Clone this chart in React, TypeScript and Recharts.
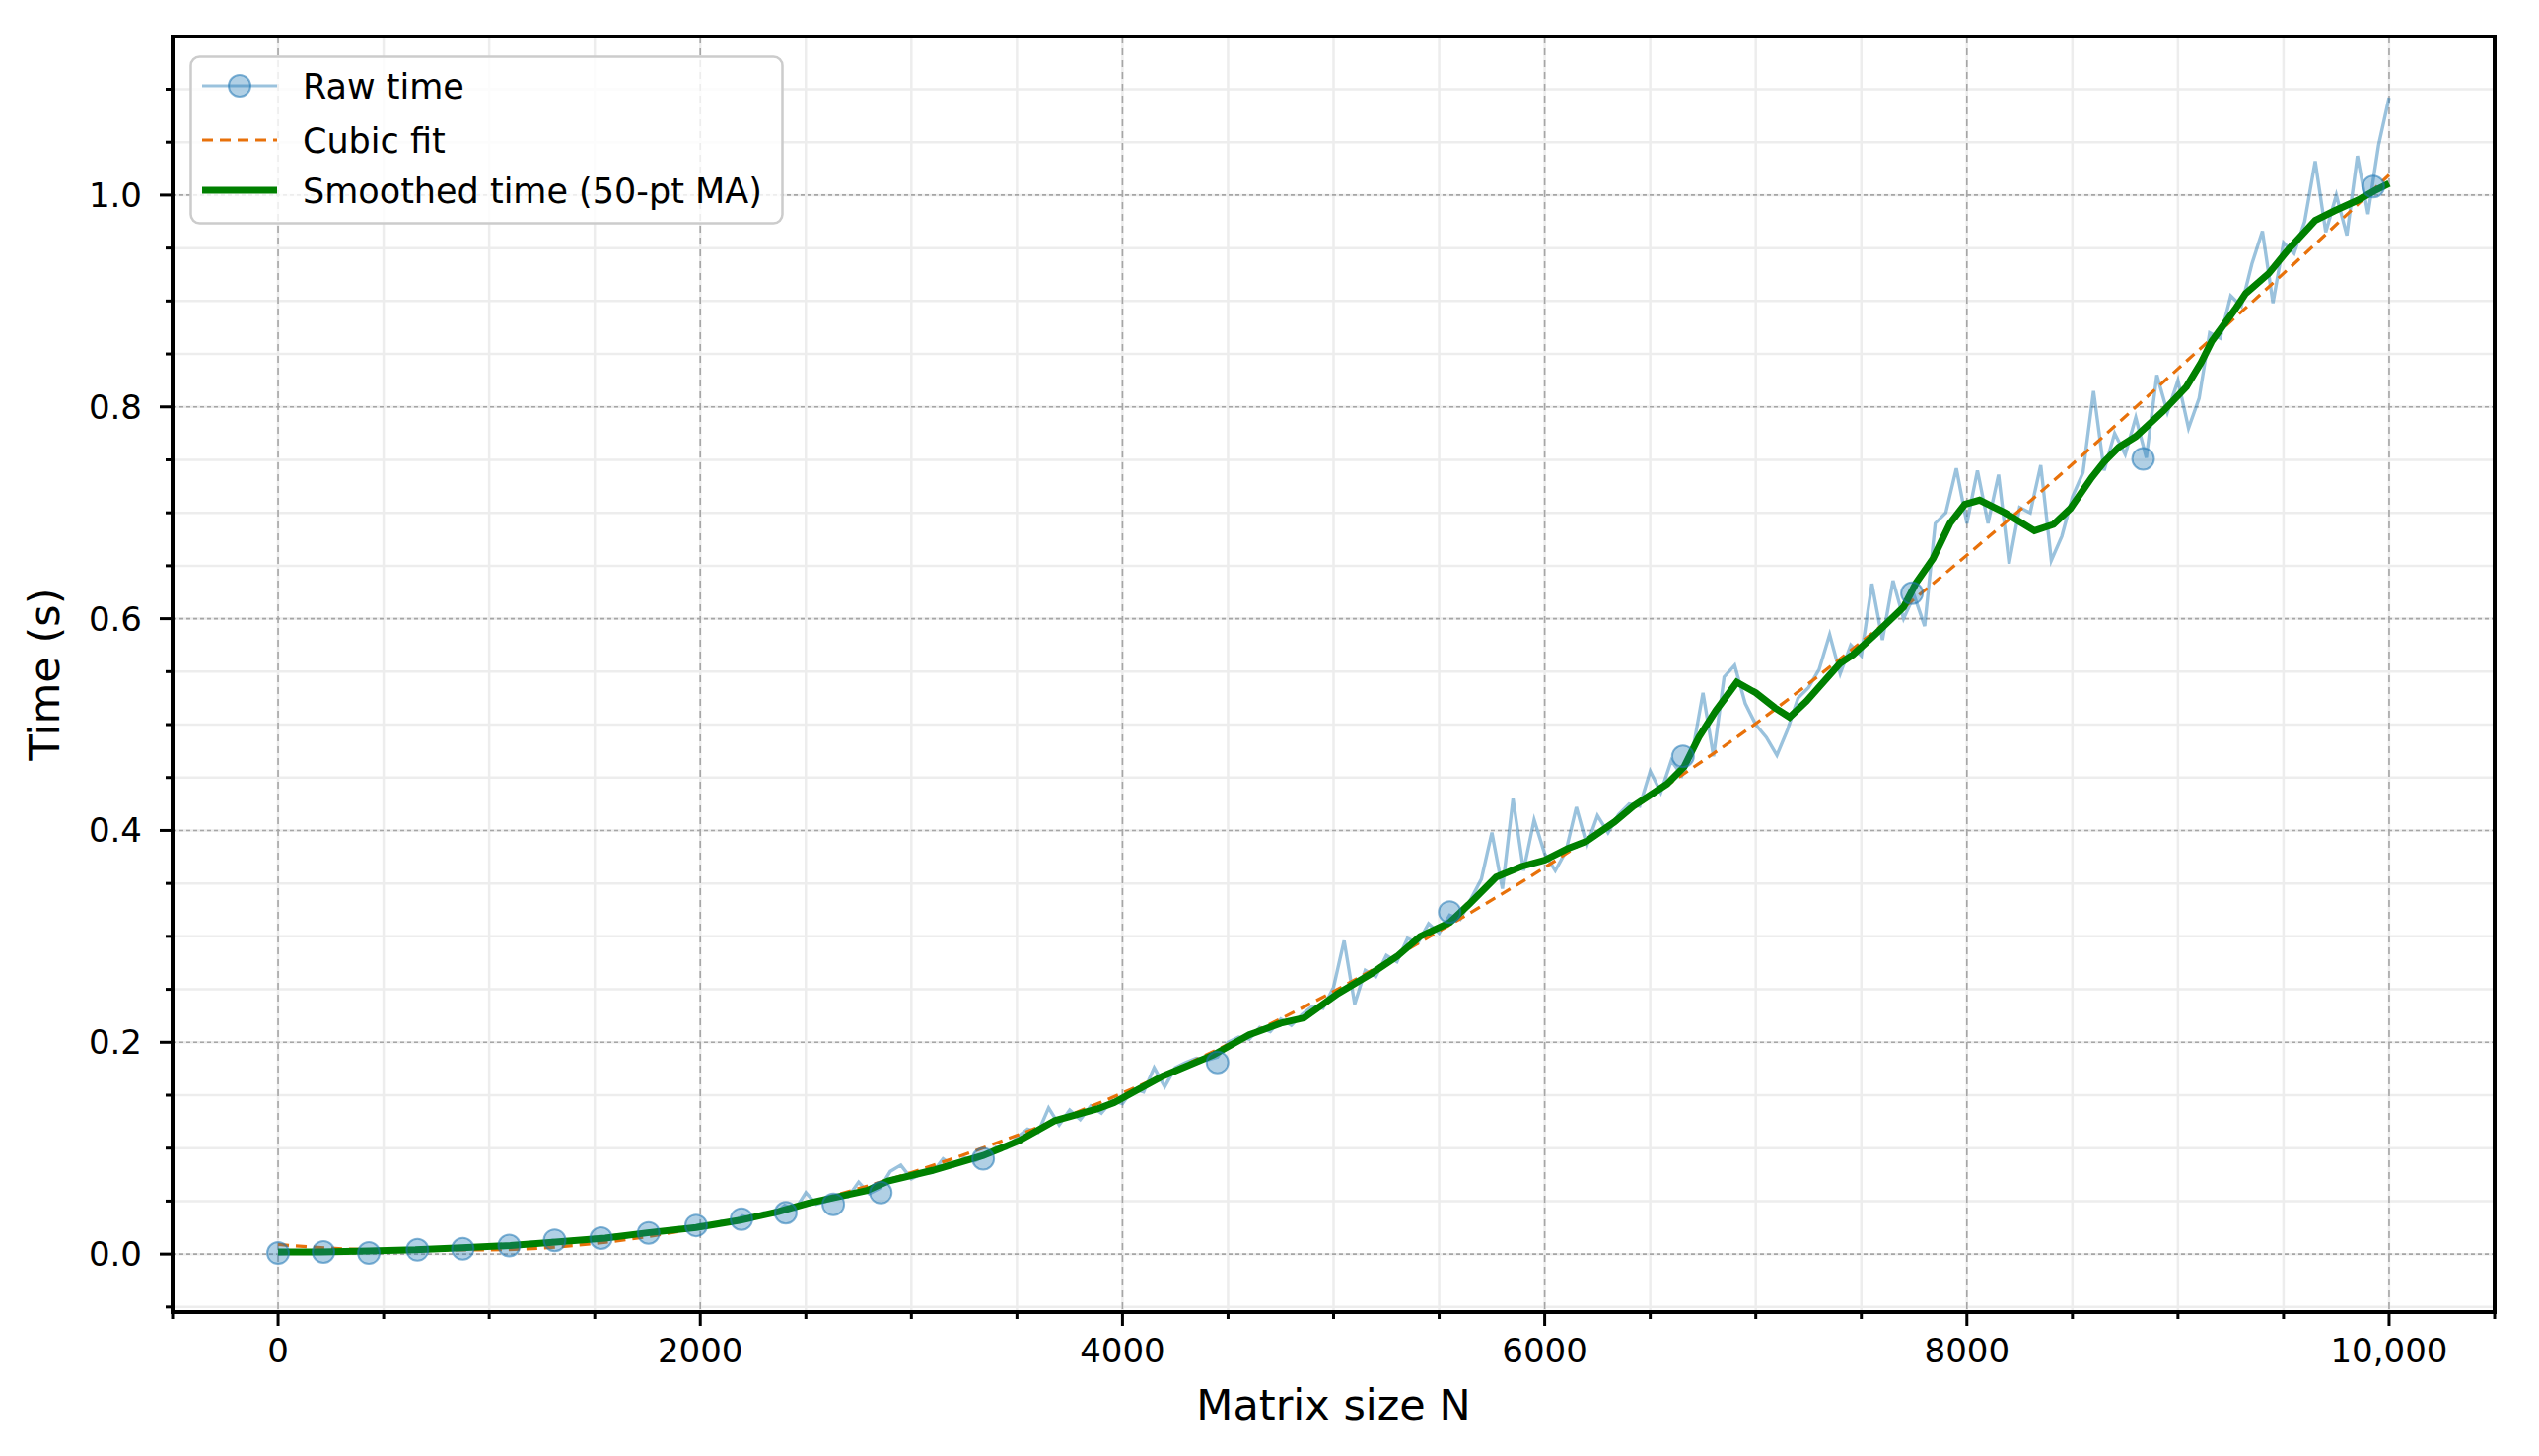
import React from 'react'
import { ComposedChart, Line, Scatter, XAxis, YAxis, CartesianGrid, ReferenceArea, Legend, Label } from 'recharts'

// raw timings, sampled every 50 in N
const rawN = [
  0, 50, 100, 150, 200, 250, 300, 350, 400, 450, 500, 550, 600, 650, 700, 750, 800, 850, 900, 950,
  1000, 1050, 1100, 1150, 1200, 1250, 1300, 1350, 1400, 1450, 1500, 1550, 1600, 1650, 1700, 1750, 1800, 1850, 1900, 1950,
  2000, 2050, 2100, 2150, 2200, 2250, 2300, 2350, 2400, 2450, 2500, 2550, 2600, 2650, 2700, 2750, 2800, 2850, 2900, 2950,
  3000, 3050, 3100, 3150, 3200, 3250, 3300, 3350, 3400, 3450, 3500, 3550, 3600, 3650, 3700, 3750, 3800, 3850, 3900, 3950,
  4000, 4050, 4100, 4150, 4200, 4250, 4300, 4350, 4400, 4450, 4500, 4550, 4600, 4650, 4700, 4750, 4800, 4850, 4900, 4950,
  5000, 5050, 5100, 5150, 5200, 5250, 5300, 5350, 5400, 5450, 5500, 5550, 5600, 5650, 5700, 5750, 5800, 5850, 5900, 5950,
  6000, 6050, 6100, 6150, 6200, 6250, 6300, 6350, 6400, 6450, 6500, 6550, 6600, 6650, 6700, 6750, 6800, 6850, 6900, 6950,
  7000, 7050, 7100, 7150, 7200, 7250, 7300, 7350, 7400, 7450, 7500, 7550, 7600, 7650, 7700, 7750, 7800, 7850, 7900, 7950,
  8000, 8050, 8100, 8150, 8200, 8250, 8300, 8350, 8400, 8450, 8500, 8550, 8600, 8650, 8700, 8750, 8800, 8850, 8900, 8950,
  9000, 9050, 9100, 9150, 9200, 9250, 9300, 9350, 9400, 9450, 9500, 9550, 9600, 9650, 9700, 9750, 9800, 9850, 9900, 9950,
  10000,
]
const rawTime = [
  0.000, 0.001, 0.001, 0.002, 0.002, 0.002, 0.003, 0.002, 0.003, 0.002, 0.004, 0.003, 0.004, 0.005, 0.004, 0.006, 0.005, 0.006, 0.007, 0.006,
  0.008, 0.007, 0.009, 0.008, 0.011, 0.010, 0.013, 0.011, 0.014, 0.012, 0.016, 0.015, 0.018, 0.016, 0.020, 0.019, 0.023, 0.021, 0.025, 0.023,
  0.028, 0.026, 0.031, 0.029, 0.036, 0.033, 0.039, 0.037, 0.046, 0.042, 0.058, 0.047, 0.050, 0.053, 0.054, 0.068, 0.057, 0.062, 0.078, 0.084,
  0.071, 0.076, 0.077, 0.090, 0.083, 0.091, 0.088, 0.093, 0.101, 0.100, 0.110, 0.118, 0.115, 0.138, 0.122, 0.136, 0.127, 0.140, 0.133, 0.145,
  0.142, 0.156, 0.153, 0.176, 0.158, 0.176, 0.181, 0.185, 0.183, 0.186, 0.200, 0.205, 0.203, 0.214, 0.210, 0.222, 0.216, 0.226, 0.234, 0.232,
  0.252, 0.296, 0.236, 0.268, 0.262, 0.282, 0.276, 0.298, 0.294, 0.312, 0.303, 0.320, 0.316, 0.335, 0.354, 0.398, 0.345, 0.430, 0.362, 0.410,
  0.378, 0.362, 0.380, 0.422, 0.386, 0.414, 0.398, 0.415, 0.425, 0.423, 0.456, 0.436, 0.466, 0.452, 0.474, 0.530, 0.470, 0.545, 0.556, 0.520,
  0.500, 0.488, 0.471, 0.495, 0.525, 0.535, 0.552, 0.585, 0.548, 0.575, 0.565, 0.633, 0.580, 0.636, 0.600, 0.622, 0.593, 0.690, 0.700, 0.742,
  0.690, 0.740, 0.690, 0.736, 0.652, 0.705, 0.700, 0.745, 0.655, 0.678, 0.715, 0.738, 0.815, 0.740, 0.775, 0.755, 0.790, 0.752, 0.830, 0.795,
  0.825, 0.780, 0.808, 0.870, 0.865, 0.905, 0.895, 0.935, 0.966, 0.898, 0.955, 0.945, 0.975, 1.032, 0.965, 1.000, 0.962, 1.037, 0.982, 1.047,
  1.092,
]

// points where the raw series shows a marker
const markerN = [0, 215, 430, 660, 875, 1095, 1310, 1530, 1755, 1980, 2195, 2405, 2630, 2855, 3340, 4450, 5550, 6655, 7740, 8835, 9925]
const markerTime = [0.001, 0.002, 0.001, 0.004, 0.005, 0.008, 0.013, 0.015, 0.020, 0.027, 0.033, 0.039, 0.047, 0.058, 0.090, 0.181, 0.323, 0.470, 0.624, 0.751, 1.008]

// cubic fit
const fitN = [0, 500, 1000, 1500, 2000, 2500, 3000, 3500, 4000, 4500, 5000, 5500, 6000, 6500, 7000, 7500, 8000, 8500, 9000, 9500, 10000]
const fitTime = [0.009, 0.004, 0.004, 0.010, 0.025, 0.048, 0.077, 0.112, 0.152, 0.198, 0.248, 0.305, 0.365, 0.432, 0.501, 0.578, 0.660, 0.746, 0.836, 0.926, 1.019]

// 50-pt moving average
const smoothN = [
  0, 200, 430, 650, 870, 1100, 1300, 1550, 1750, 1980, 2190, 2370, 2510, 2790, 2890, 3100, 3340, 3510, 3680, 3880,
  3960, 4190, 4430, 4600, 4750, 4860, 5020, 5180, 5300, 5410, 5550, 5640, 5770, 5890, 6000, 6110, 6200, 6330, 6420, 6580,
  6660, 6730, 6810, 6910, 7000, 7090, 7160, 7240, 7400, 7460, 7560, 7700, 7760, 7840, 7920, 7990, 8060, 8180, 8320, 8410,
  8490, 8590, 8650, 8720, 8800, 8930, 9040, 9110, 9160, 9270, 9320, 9430, 9520, 9650, 9740, 9850, 9930, 10000,
]
const smoothTime = [
  0.002, 0.002, 0.003, 0.004, 0.006, 0.008, 0.011, 0.015, 0.020, 0.025, 0.032, 0.040, 0.048, 0.060, 0.069, 0.079, 0.093, 0.107, 0.126, 0.137,
  0.143, 0.168, 0.188, 0.207, 0.218, 0.223, 0.246, 0.265, 0.281, 0.300, 0.313, 0.330, 0.356, 0.366, 0.372, 0.383, 0.390, 0.408, 0.423, 0.444,
  0.460, 0.488, 0.513, 0.540, 0.530, 0.516, 0.507, 0.522, 0.558, 0.566, 0.584, 0.611, 0.634, 0.657, 0.690, 0.708, 0.712, 0.700, 0.683, 0.689,
  0.704, 0.733, 0.748, 0.762, 0.772, 0.796, 0.819, 0.842, 0.862, 0.892, 0.907, 0.926, 0.948, 0.976, 0.985, 0.995, 1.004, 1.011,
]

const xMajorTicks = [0, 2000, 4000, 6000, 8000, 10000]
const xTickLabels = ['0', '2000', '4000', '6000', '8000', '10,000']
const xMinorTicks = [-500, 0, 500, 1000, 1500, 2000, 2500, 3000, 3500, 4000, 4500, 5000, 5500, 6000, 6500, 7000, 7500, 8000, 8500, 9000, 9500, 10000, 10500]
const yMajorTicks = [0, 0.2, 0.4, 0.6, 0.8, 1.0]
const yTickLabels = ['0.0', '0.2', '0.4', '0.6', '0.8', '1.0']
const yMinorTicks = [-0.05, 0, 0.05, 0.1, 0.15, 0.2, 0.25, 0.3, 0.35, 0.4, 0.45, 0.5, 0.55, 0.6, 0.65, 0.7, 0.75, 0.8, 0.85, 0.9, 0.95, 1.0, 1.05, 1.1]

const X_DOMAIN: [number, number] = [-500, 10500]
const Y_DOMAIN: [number, number] = [-0.0548, 1.1498]

const FONT = 'DejaVu Sans'
const W = 2559
const H = 1455
const Y_AXIS_W = 167
const X_AXIS_H = 132
const MARGIN = { top: 29, right: 37, bottom: 0, left: 0 }

const rawData = rawN.map((n, i) => ({ n, t: rawTime[i] }))
const markerData = markerN.map((n, i) => ({ n, t: markerTime[i] }))
const fitData = fitN.map((n, i) => ({ n, t: fitTime[i] }))
const smoothData = smoothN.map((n, i) => ({ n, t: smoothTime[i] }))

const findMajor = (list: number[], v: number) => list.findIndex((m) => Math.abs(m - v) < 1e-6)

const XTick = (props: any) => {
  const { x, y, payload } = props
  const idx = findMajor(xMajorTicks, payload.value)
  return (
    <g>
      <line x1={x} x2={x} y1={y} y2={y + (idx >= 0 ? 14 : 7)} stroke="#000" strokeWidth={3} />
      {idx >= 0 && (
        <text x={x} y={y + 51} textAnchor="middle" fontSize={34} fontFamily={FONT} fill="#000">
          {xTickLabels[idx]}
        </text>
      )}
    </g>
  )
}

const YTick = (props: any) => {
  const { x, y, payload } = props
  const idx = findMajor(yMajorTicks, payload.value)
  return (
    <g>
      <line x1={x - (idx >= 0 ? 13 : 7)} x2={x} y1={y} y2={y} stroke="#000" strokeWidth={3} />
      {idx >= 0 && (
        <text x={x - 31} y={y + 12} textAnchor="end" fontSize={34} fontFamily={FONT} fill="#000">
          {yTickLabels[idx]}
        </text>
      )}
    </g>
  )
}

const plotW = W - MARGIN.left - MARGIN.right - Y_AXIS_W
const plotH = H - MARGIN.top - MARGIN.bottom - X_AXIS_H

const XLabel = () => (
  <text x={MARGIN.left + Y_AXIS_W + plotW / 2} y={MARGIN.top + plotH + 109} textAnchor="middle" fontSize={43} fontFamily={FONT} fill="#000">
    Matrix size N
  </text>
)

const YLabel = () => {
  const cx = 52
  const cy = MARGIN.top + plotH / 2
  return (
    <text x={cx} y={cy} transform={`rotate(-90, ${cx}, ${cy})`} textAnchor="middle" fontSize={43} fontFamily={FONT} fill="#000">
      Time (s)
    </text>
  )
}

const LegendBox = () => {
  const rows = [31, 86, 137]
  return (
    <svg width={603} height={172} style={{ display: 'block' }}>
      <rect x={1.5} y={1.5} width={600} height={169} rx={9} fill="#fff" fillOpacity={0.8} stroke="#cccccc" strokeWidth={2.5} />
      <line x1={13} x2={89} y1={rows[0]} y2={rows[0]} stroke="#1f77b4" strokeOpacity={0.45} strokeWidth={3} />
      <circle cx={51} cy={rows[0]} r={11} fill="#1f77b4" fillOpacity={0.35} stroke="#1f77b4" strokeOpacity={0.55} strokeWidth={2} />
      <line x1={13} x2={89} y1={rows[1]} y2={rows[1]} stroke="#e8710a" strokeWidth={3.2} strokeDasharray="11 7" />
      <line x1={13} x2={89} y1={rows[2]} y2={rows[2]} stroke="#008000" strokeWidth={7} />
      {['Raw time', 'Cubic fit', 'Smoothed time (50-pt MA)'].map((s, i) => (
        <text key={s} x={115} y={rows[i] + 12.5} fontSize={35} fontFamily={FONT} fill="#000">
          {s}
        </text>
      ))}
    </svg>
  )
}

const MarkerDot = (props: any) => (
  <circle cx={props.cx} cy={props.cy} r={11} fill="#1f77b4" fillOpacity={0.35} stroke="#1f77b4" strokeOpacity={0.55} strokeWidth={2} />
)

export default function App() {
  return (
    <ComposedChart width={W} height={H} margin={MARGIN}>
      <CartesianGrid horizontalValues={yMinorTicks} verticalValues={xMinorTicks} stroke="#ededed" strokeWidth={2.5} />
      <CartesianGrid horizontal={false} verticalValues={xMajorTicks} stroke="#a6a6a6" strokeWidth={1.6} strokeDasharray="7 5" />
      <CartesianGrid vertical={false} horizontalValues={yMajorTicks} stroke="#a6a6a6" strokeWidth={1.6} strokeDasharray="4 3" />
      <XAxis
        type="number"
        dataKey="n"
        domain={X_DOMAIN}
        ticks={xMinorTicks}
        interval={0}
        tick={XTick}
        tickLine={false}
        axisLine={false}
        tickSize={0}
        tickMargin={0}
        height={X_AXIS_H}
        allowDataOverflow
      >
        <Label content={XLabel} />
      </XAxis>
      <YAxis
        type="number"
        dataKey="t"
        domain={Y_DOMAIN}
        ticks={yMinorTicks}
        interval={0}
        tick={YTick}
        tickLine={false}
        axisLine={false}
        tickSize={0}
        tickMargin={0}
        width={Y_AXIS_W}
        allowDataOverflow
      >
        <Label content={YLabel} />
      </YAxis>
      <Line data={rawData} dataKey="t" type="linear" stroke="#1f77b4" strokeOpacity={0.45} strokeWidth={3.4} dot={false} isAnimationActive={false} />
      <Scatter data={markerData} dataKey="t" shape={MarkerDot} isAnimationActive={false} />
      <Line data={fitData} dataKey="t" type="monotone" stroke="#e8710a" strokeWidth={3.2} strokeDasharray="11 7" dot={false} isAnimationActive={false} />
      <Line data={smoothData} dataKey="t" type="linear" stroke="#008000" strokeWidth={7} dot={false} isAnimationActive={false} />
      <ReferenceArea x1={X_DOMAIN[0]} x2={X_DOMAIN[1]} y1={Y_DOMAIN[0]} y2={Y_DOMAIN[1]} fill="none" fillOpacity={0} stroke="#000" strokeWidth={4} ifOverflow="visible" />
      <Legend
        layout="vertical"
        align="center"
        verticalAlign="middle"
        wrapperStyle={{ left: 184, top: 48, width: 603, height: 172 }}
        content={() => <LegendBox />}
      />
    </ComposedChart>
  )
}
